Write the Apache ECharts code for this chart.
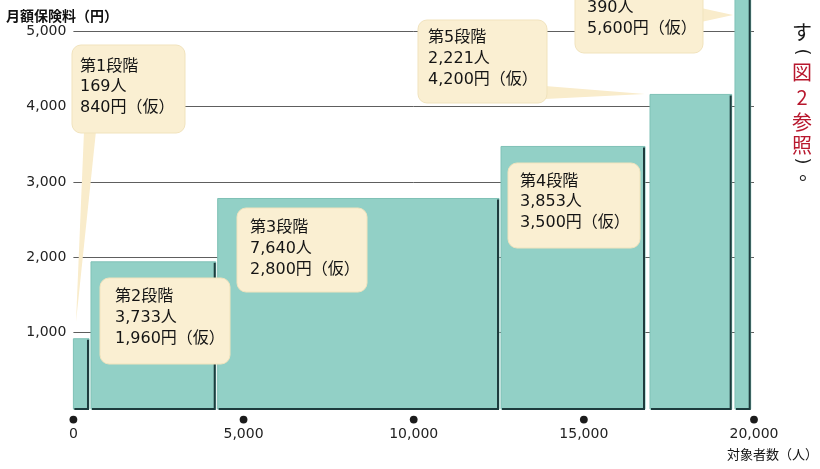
<!DOCTYPE html>
<html>
<head>
<meta charset="utf-8">
<script src="https://cdn.jsdelivr.net/npm/echarts@6/dist/echarts.min.js"></script>
<style>
html,body{margin:0;padding:0;background:#fff;}
#chart{width:820px;height:469px;}
</style>
</head>
<body>
<div id="chart"></div>
<script>
// ---- data ----
const stages = ['第1段階', '第2段階', '第3段階', '第4段階', '第5段階', '第6段階'];
const people = ['169人', '3,733人', '7,640人', '3,853人', '2,221人', '390人'];
const premiums = ['840円（仮）', '1,960円（仮）', '2,800円（仮）', '3,500円（仮）', '4,200円（仮）', '5,600円（仮）'];
// bar extents along the "number of people" axis, as drawn in the figure
const barStart = [0, 517, 4240, 12566, 16944, 19441];
const barEnd = [458, 4182, 12507, 16797, 19344, 19903];
// monthly premium (yen), bar heights
const barHeight = [920, 1940, 2780, 3470, 4160, 5600];
const xTicks = [0, 5000, 10000, 15000, 20000];
const xTickLabels = ['0', '5,000', '10,000', '15,000', '20,000'];
const yTickLabels = ['', '1,000', '2,000', '3,000', '4,000', '5,000'];
const yAxisName = '月額保険料（円）';
const xAxisName = '対象者数（人）';
const sideChars = ['す', '(', '図', '2', '参', '照', ')', '。'];
const sideRed = [false, false, true, true, true, true, false, false];

const NUM_FONT = "'DejaVu Sans', 'Noto Sans CJK JP', sans-serif";
const JP_FONT = "'Noto Sans CJK JP', 'DejaVu Sans', sans-serif";

const chart = echarts.init(document.getElementById('chart'), null, {renderer: 'canvas'});

// callout box layout (pixels)
const boxes = [
  {rect: [72, 45, 113, 88], text: [80, 56.5], lh: 20.5, tail: [[84, 131], [96, 131], [76, 322]]},
  {rect: [100, 278, 130, 86], text: [115, 286.5], lh: 21},
  {rect: [237, 208, 130, 84], text: [250, 217.5], lh: 21},
  {rect: [508, 163, 132, 85], text: [520, 171.5], lh: 20.5},
  {rect: [418, 20, 129, 83], text: [428, 27.5], lh: 21, tail: [[545, 86], [545, 99], [645, 94]]},
  {rect: [575, -40, 128, 93], text: [587, -23.5], lh: 21, tail: [[701, 8], [701, 22], [733, 15]]}
];
const sideY = [32, 52, 72, 97, 122, 145, 161, 172];
const sideX = [802, 802, 802, 802, 802, 802, 802, 809];

const graphics = [];
boxes.forEach((b, i) => {
  if (b.tail) {
    graphics.push({type: 'polygon', z: 100, shape: {points: b.tail}, style: {fill: '#f9eccb'}});
  }
  graphics.push({type: 'rect', z: 101, shape: {x: b.rect[0], y: b.rect[1], width: b.rect[2], height: b.rect[3], r: 9},
    style: {fill: '#faefd2', stroke: '#f1e3bd', lineWidth: 1}});
  graphics.push({type: 'text', z: 102, style: {text: [stages[i], people[i], premiums[i]].join('\n'),
    x: b.text[0], y: b.text[1], fill: '#141414', font: '16px ' + NUM_FONT, lineHeight: b.lh,
    textAlign: 'left', textVerticalAlign: 'top'}});
});
graphics.push({type: 'text', z: 102, style: {text: yAxisName, x: 6, y: 16, fill: '#111',
  font: 'bold 14px ' + JP_FONT, textAlign: 'left', textVerticalAlign: 'middle'}});
graphics.push({type: 'text', z: 102, style: {text: xAxisName, x: 818, y: 454, fill: '#111',
  font: '13px ' + JP_FONT, textAlign: 'right', textVerticalAlign: 'middle'}});
sideChars.forEach((c, i) => {
  const isParen = (c === '(' || c === ')');
  graphics.push({type: 'text', z: 102, x: sideX[i], y: sideY[i], rotation: isParen ? -Math.PI / 2 : 0,
    style: {text: c, x: 0, y: 0,
      fill: sideRed[i] ? '#b8172d' : '#1a1a1a', font: (isParen ? '18px ' + NUM_FONT : '20px ' + JP_FONT),
      textAlign: 'center', textVerticalAlign: 'middle'}});
});

function renderBar(params, api) {
  const x0 = api.value(0), x1 = api.value(1), h = api.value(2);
  const p0 = api.coord([x0, 0]);
  const p1 = api.coord([x1, h]);
  const left = p0[0], right = p1[0], bottom = p0[1], top = p1[1];
  return {
    type: 'group',
    children: [
      {type: 'rect', shape: {x: left, y: top, width: right - left, height: bottom - top + 1},
        style: {fill: '#92d0c6', stroke: '#7fc1b6', lineWidth: 1}},
      {type: 'polyline', shape: {points: [[right - 1, top + 1], [right - 1, bottom + 1], [left + 1, bottom + 1]]},
        style: {stroke: '#1d3b3d', lineWidth: 2, fill: null}}
    ]
  };
}

function renderDot(params, api) {
  const p = api.coord([api.value(0), 0]);
  return {type: 'circle', shape: {cx: p[0], cy: p[1] + 11.5, r: 3.9}, style: {fill: '#1b1b1b'}};
}

const option = {
  backgroundColor: '#ffffff',
  animation: false,
  grid: {left: 73.4, right: 66, top: 31.1, bottom: 60.9, containLabel: false},
  xAxis: {
    type: 'value', min: 0, max: 20000, interval: 5000,
    axisLine: {show: false}, axisTick: {show: false}, splitLine: {show: false},
    axisLabel: {margin: 19, color: '#222', fontSize: 14, fontFamily: NUM_FONT,
      formatter: v => xTickLabels[xTicks.indexOf(v)] ?? ''}
  },
  yAxis: {
    type: 'value', min: 0, max: 5000, interval: 1000,
    axisLine: {show: false}, axisTick: {show: false},
    splitLine: {show: true, showMinLine: false, lineStyle: {color: '#5e5e5e', width: 1}},
    axisLabel: {margin: 7, color: '#222', fontSize: 14, fontFamily: NUM_FONT,
      formatter: v => yTickLabels[Math.round(v / 1000)] ?? ''}
  },
  series: [
    {
      type: 'custom', renderItem: renderBar, clip: false, z: 2,
      encode: {x: [0, 1], y: 2},
      data: barStart.map((s, i) => [s, barEnd[i], barHeight[i]])
    },
    {
      type: 'custom', renderItem: renderDot, clip: false, z: 3,
      encode: {x: 0, y: 1},
      data: xTicks.map(v => [v, 0])
    }
  ],
  graphic: {elements: graphics}
};
chart.setOption(option);
</script>
</body>
</html>
